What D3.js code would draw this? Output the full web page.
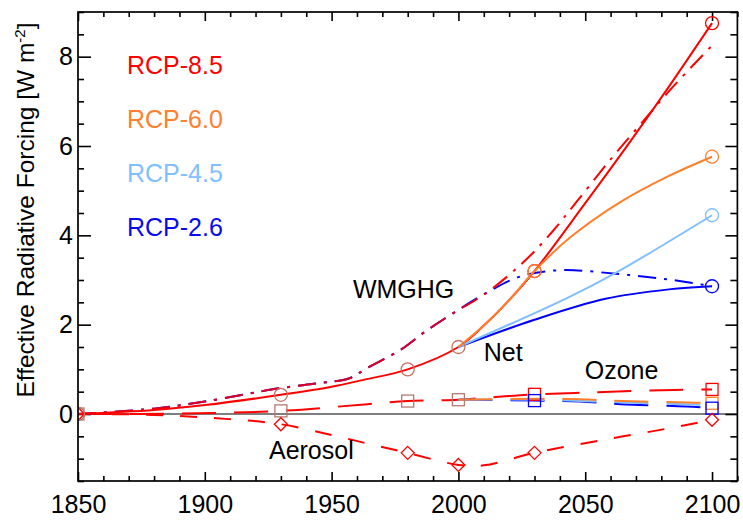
<!DOCTYPE html>
<html><head><meta charset="utf-8">
<script src="https://cdn.jsdelivr.net/npm/d3@7"></script>
<style>
html,body{margin:0;padding:0;background:#fff;}
svg{display:block;font-family:"Liberation Sans",Arial,Helvetica,sans-serif;}
</style></head><body>
<svg id="chart" width="743" height="520"></svg>
<script>
// ---------------- data ----------------
const xTicks = [1850, 1900, 1950, 2000, 2050, 2100];
const yTicks = [0, 2, 4, 6, 8];
const rcpLabels = ["RCP-8.5", "RCP-6.0", "RCP-4.5", "RCP-2.6"];
const histMarkYears = [1850, 1930, 1980, 2000];

// Net forcing (solid lines, circles)
const net85 = [[1850,0],[1880,0.09],[1900,0.2],[1930,0.43],[1949,0.6],[1963,0.77],[1980,1.0],[2000,1.5],[2010,1.98],[2020,2.55],[2030,3.2],[2050,4.72],[2068,6.12],[2083,7.33],[2100,8.75]];
const net60 = [[2000,1.5],[2010,1.98],[2020,2.55],[2030,3.2],[2044,3.95],[2064,4.75],[2083,5.33],[2100,5.76]];
const net45 = [[2000,1.5],[2043,2.6],[2062,3.16],[2100,4.45]];
const net26 = [[2000,1.5],[2030,2.11],[2058,2.58],[2083,2.79],[2100,2.86]];

// WMGHG (dash-dot lines)
const wmgHist = [[1850,0],[1880,0.12],[1900,0.28],[1930,0.58],[1945,0.69],[1957,0.8],[1964,1.03],[1977,1.43],[1987,1.85],[1998,2.26],[2011,2.71]];
const wmg85Future = [[2026,3.42],[2037,4.08],[2047,4.78],[2060,5.7],[2072,6.5],[2085,7.35],[2100,8.25]];
const wmg26Future = [[2024,3.07],[2040,3.22],[2062,3.14],[2083,3.01],[2100,2.86]];

// Ozone (long dashes, squares)
const oz85 = [[1850,0],[1890,0.01],[1930,0.07],[1964,0.22],[1980,0.29],[2000,0.32],[2015,0.38],[2030,0.44],[2046,0.47],[2060,0.5],[2085,0.54],[2100,0.55]];
const oz60 = [[2000,0.32],[2030,0.34],[2048,0.33],[2065,0.29],[2090,0.26],[2100,0.24]];
const oz45 = [[2000,0.32],[2030,0.32],[2065,0.26],[2100,0.2]];
const oz26 = [[2000,0.32],[2030,0.30],[2048,0.28],[2064,0.22],[2090,0.17],[2100,0.13]];

// Aerosol (dashes, diamonds)
const aer = [[1850,0],[1880,-0.02],[1906,-0.1],[1930,-0.23],[1950,-0.47],[1964,-0.66],[1980,-0.87],[2000,-1.14],[2010,-1.15],[2030,-0.87],[2057,-0.58],[2083,-0.32],[2100,-0.13]];

// ---------------- styles ----------------
const C = {r:"#ff0000", o:"#ff7f2a", lb:"#7fbfff", b:"#0000ff", histCircle:"#c8705e", histSquare:"#b47a74"};
const legendColors = ["#ff0000", "#ff8030", "#80c0ff", "#0a0aee"];

const svg = d3.select("#chart");
const L = 78, R = 737.4, T = 12, B = 481;
const x = d3.scaleLinear().domain([1850, 2110]).range([L, R]);
const y = d3.scaleLinear().domain([-1.5, 9]).range([B, T]);

svg.append("defs").append("clipPath").attr("id","plotclip")
  .append("rect").attr("x",L).attr("y",T).attr("width",R-L).attr("height",B-T);

const FS = 25;

// axes
const xMinor = d3.range(1850, 2111, 10).filter(v => v % 50 !== 0);
const yMinor = d3.range(-3, 19).map(v => v / 2).filter(v => v % 2 !== 0);

function styleAxis(g){
  g.select(".domain").remove();
  g.selectAll(".tick line").attr("stroke","#000").attr("stroke-width",1.6);
  g.selectAll(".tick text").attr("fill","#000").attr("font-size",FS)
    .attr("font-family",'"Liberation Sans",Arial,Helvetica,sans-serif');
}
svg.append("g").attr("transform",`translate(0,${B})`)
  .call(d3.axisBottom(x).tickValues(xTicks).tickSize(-9).tickPadding(14).tickFormat(d3.format("d"))).call(styleAxis);
svg.append("g").attr("transform",`translate(0,${B})`)
  .call(d3.axisBottom(x).tickValues(xMinor).tickSize(-5).tickFormat("")).call(styleAxis);
svg.append("g").attr("transform",`translate(0,${T})`)
  .call(d3.axisTop(x).tickValues(xTicks).tickSize(-9).tickFormat("")).call(styleAxis);
svg.append("g").attr("transform",`translate(0,${T})`)
  .call(d3.axisTop(x).tickValues(xMinor).tickSize(-5).tickFormat("")).call(styleAxis);
svg.append("g").attr("transform",`translate(${L},0)`)
  .call(d3.axisLeft(y).tickValues(yTicks).tickSize(-13).tickPadding(5).tickFormat(d3.format("d"))).call(styleAxis);
svg.append("g").attr("transform",`translate(${L},0)`)
  .call(d3.axisLeft(y).tickValues(yMinor).tickSize(-6).tickFormat("")).call(styleAxis);
svg.append("g").attr("transform",`translate(${R},0)`)
  .call(d3.axisRight(y).tickValues(yTicks).tickSize(-12).tickFormat("")).call(styleAxis);
svg.append("g").attr("transform",`translate(${R},0)`)
  .call(d3.axisRight(y).tickValues(yMinor).tickSize(-7).tickFormat("")).call(styleAxis);

// plot layer
const plot = svg.append("g").attr("clip-path","url(#plotclip)");

// zero line
plot.append("line").attr("x1",L).attr("x2",R).attr("y1",y(0)).attr("y2",y(0))
  .attr("stroke","#000").attr("stroke-width",1.2);

const line = d3.line().x(d => x(d[0])).y(d => y(d[1])).curve(d3.curveCatmullRom.alpha(0.5));
function drawLine(data, color, dash, opacity){
  plot.append("path").datum(data).attr("d", line)
    .attr("fill","none").attr("stroke",color).attr("stroke-width",2)
    .attr("stroke-opacity", opacity == null ? 1 : opacity)
    .attr("stroke-dasharray", dash || null);
}
const OZD = "34,18", AERD = "17,17", DD = "18,8,3,8";

// ozone
drawLine(oz85, C.r, OZD);
drawLine(oz26, C.b, OZD);
drawLine(oz45, C.lb, OZD);
drawLine(oz60, C.o, OZD);
// aerosol
drawLine(aer, C.r, AERD);
// WMGHG
drawLine(wmgHist.concat(wmg26Future), C.b, DD);
drawLine(wmgHist.concat(wmg85Future), C.r, DD);
drawLine(wmgHist, C.b, DD, 0.13);
// net
drawLine(net85, C.r);
drawLine(net26, C.b);
drawLine(net45, C.lb);
drawLine(net60, C.o);

// markers
function pick(data, years){ return data.filter(d => years.includes(d[0])); }
function circles(pts, color){
  plot.selectAll(null).data(pts).enter().append("circle")
    .attr("cx", d => x(d[0])).attr("cy", d => y(d[1])).attr("r", 6.5)
    .attr("fill","none").attr("stroke",color).attr("stroke-width",1.3);
}
function squares(pts, color){
  plot.selectAll(null).data(pts).enter().append("rect")
    .attr("x", d => x(d[0]) - 6).attr("y", d => y(d[1]) - 6)
    .attr("width",12).attr("height",12)
    .attr("fill","none").attr("stroke",color).attr("stroke-width",1.3);
}
function diamonds(pts, color){
  plot.selectAll(null).data(pts).enter().append("path")
    .attr("d", d => { const cx = x(d[0]), cy = y(d[1]), s = 6.5;
      return `M${cx},${cy-s}L${cx+s},${cy}L${cx},${cy+s}L${cx-s},${cy}Z`; })
    .attr("fill","none").attr("stroke",color).attr("stroke-width",1.3);
}
squares(pick(oz85, histMarkYears), C.histSquare);
squares(pick(oz85, [2030, 2100]), C.r);
squares(pick(oz60, [2100]), C.o);
squares(pick(oz26, [2030, 2100]), C.b);
diamonds(pick(aer, [1850,1930,1980,2000,2030,2100]), C.r);
circles(pick(net85, histMarkYears), C.histCircle);
circles(pick(net85, [2030, 2100]), C.r);
circles(pick(net60, [2030, 2100]), C.o);
circles(pick(net45, [2100]), C.lb);
circles(pick(net26, [2100]), C.b);

// frame
svg.append("rect").attr("x",L).attr("y",T).attr("width",R-L).attr("height",B-T)
  .attr("fill","none").attr("stroke","#000").attr("stroke-width",1.7);

// legend
svg.selectAll(null).data(rcpLabels).enter().append("text")
  .attr("x", L + 49).attr("y", (d,i) => T + 62 + i * 54)
  .attr("font-size", FS).attr("fill", (d,i) => legendColors[i]).text(d => d);

// series labels (anchored in data coordinates)
const labels = [["WMGHG",1958.4,2.6],["Net",2010.0,1.19],["Ozone",2049.8,0.78],["Aerosol",1925.3,-1.01]];
svg.selectAll(null).data(labels).enter().append("text")
  .attr("x", d => x(d[1])).attr("y", d => y(d[2]))
  .attr("font-size", FS).attr("fill","#000").text(d => d[0]);

// y-axis title
const yt = svg.append("text").attr("transform","translate(34,210) rotate(-90)")
  .attr("text-anchor","middle").attr("font-size",24.5).attr("fill","#000");
yt.append("tspan").text("Effective Radiative Forcing [W m");
yt.append("tspan").attr("font-size",15).attr("dy",-9).text("-2");
yt.append("tspan").attr("dy",9).text("]");
</script>
</body></html>
